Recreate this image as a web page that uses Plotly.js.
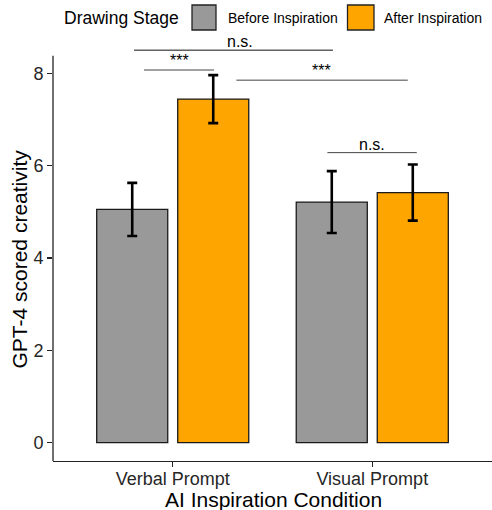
<!DOCTYPE html>
<html>
<head>
<meta charset="utf-8">
<script src="https://cdn.plot.ly/plotly-3.0.1.min.js"></script>
<style>html,body{margin:0;padding:0;background:#fff;}#chart{width:492px;height:510px;}</style>
</head>
<body>
<div id="chart"></div>
<script>
// ---- data ----
const categories = ['Verbal Prompt', 'Visual Prompt'];
const stages = ['Before Inspiration', 'After Inspiration'];
const beforeMean = [5.05, 5.21];
const beforeErr = [0.575, 0.67];
const afterMean = [7.44, 5.415];
const afterErr = [0.52, 0.607];
const yTicks = [0, 2, 4, 6, 8];
const bracketX0 = [-0.194, -0.144, 0.319, 0.775];
const bracketX1 = [0.803, 0.207, 1.178, 1.223];
const bracketY = [8.50, 8.07, 7.85, 6.28];
const bracketLabelX = [0.337, 0.032, 0.748, 0.999];
const bracketLabels = ['n.s.', '***', '***', 'n.s.'];
const stageColors = ['#999999', '#FFA500'];
const xTitle = 'AI Inspiration Condition';
const yTitle = 'GPT-4 scored creativity';
const legendTitle = 'Drawing Stage';

// ---- layout constants ----
const W = 492, H = 510;
const M = {l: 53, r: 0, t: 34, b: 49};
const PW = W - M.l - M.r, PH = H - M.t - M.b;
const px2x = px => (px - M.l) / PW;
const py2y = py => (H - M.b - py) / PH;
const FONT = 'Liberation Sans, Arial, Helvetica, sans-serif';

const traces = [
  {type: 'bar', name: stages[0], x: categories, y: beforeMean,
   marker: {color: stageColors[0], line: {color: '#1a1a1a', width: 1.3}},
   error_y: {type: 'data', array: beforeErr, visible: true, color: '#000', thickness: 2.6, width: 5},
   showlegend: false},
  {type: 'bar', name: stages[1], x: categories, y: afterMean,
   marker: {color: stageColors[1], line: {color: '#1a1a1a', width: 1.3}},
   error_y: {type: 'data', array: afterErr, visible: true, color: '#000', thickness: 2.6, width: 5},
   showlegend: false}
];

const shapes = [];
const annotations = [];
// y axis line (stops at the top of the panel, brackets extend above)
shapes.push({type: 'line', xref: 'paper', yref: 'y', x0: 0, x1: 0, y0: -0.4, y1: 8.38,
  line: {color: '#222', width: 1.3}});
// significance brackets
for (let i = 0; i < bracketLabels.length; i++) {
  shapes.push({type: 'line', xref: 'x', yref: 'y', x0: bracketX0[i], x1: bracketX1[i],
    y0: bracketY[i], y1: bracketY[i], line: {color: i === 0 ? '#111' : '#444', width: 1}});
  const isStar = bracketLabels[i] === '***';
  annotations.push({xref: 'x', yref: 'y', x: bracketLabelX[i], y: bracketY[i],
    text: bracketLabels[i], showarrow: false, xanchor: 'center', yanchor: 'bottom',
    yshift: isStar ? -1 : -2,
    font: {family: FONT, size: 16, color: '#000'}});
}
// axis titles (y centred on the panel, not on the extended range)
annotations.push({xref: 'paper', yref: 'paper', x: px2x(19), y: py2y(259.5), xanchor: 'center', yanchor: 'middle',
  text: yTitle, textangle: -90, showarrow: false, font: {family: FONT, size: 21, color: '#000'}});
annotations.push({xref: 'paper', yref: 'paper', x: px2x(273.5), y: py2y(499.5), xanchor: 'center', yanchor: 'middle',
  text: xTitle, showarrow: false, font: {family: FONT, size: 21, color: '#000'}});
// manual legend
annotations.push({xref: 'paper', yref: 'paper', x: px2x(62), y: py2y(18), xanchor: 'left', yanchor: 'middle',
  text: legendTitle, showarrow: false, font: {family: FONT, size: 17.5, color: '#000'}});
const keyBoxes = [[192, 216], [347.5, 374]];
const keyText = [225.5, 382];
for (let i = 0; i < 2; i++) {
  shapes.push({type: 'rect', xref: 'paper', yref: 'paper',
    x0: px2x(keyBoxes[i][0]), x1: px2x(keyBoxes[i][1]), y0: py2y(30), y1: py2y(5),
    fillcolor: stageColors[i], line: {color: '#222', width: 1.3}});
  annotations.push({xref: 'paper', yref: 'paper', x: px2x(keyText[i]), y: py2y(18), xanchor: 'left', yanchor: 'middle',
    text: stages[i], showarrow: false, font: {family: FONT, size: 14, color: '#000'}});
}

const layout = {
  width: W, height: H,
  margin: M,
  paper_bgcolor: '#fff', plot_bgcolor: '#fff',
  font: {family: FONT, color: '#000'},
  barmode: 'group', bargap: 0.188, bargroupgap: 0.123,
  showlegend: false,
  xaxis: {
    type: 'category', range: [-0.6, 1.6], showgrid: false, zeroline: false,
    showline: true, linecolor: '#222', linewidth: 1.3,
    ticks: 'outside', ticklen: 5, tickwidth: 1.3, tickcolor: '#222',
    ticklabelstandoff: -4,
    tickfont: {family: FONT, size: 18, color: '#262626'},
    fixedrange: true
  },
  yaxis: {
    range: [-0.4, 8.85], showgrid: false, zeroline: false, showline: false,
    tickmode: 'array', tickvals: yTicks, ticktext: yTicks.map(String),
    ticks: 'outside', ticklen: 5, tickwidth: 1.3, tickcolor: '#222',
    tickfont: {family: FONT, size: 18, color: '#262626'},
    fixedrange: true
  },
  shapes: shapes,
  annotations: annotations
};

Plotly.newPlot('chart', traces, layout, {displayModeBar: false, staticPlot: true});
</script>
</body>
</html>
